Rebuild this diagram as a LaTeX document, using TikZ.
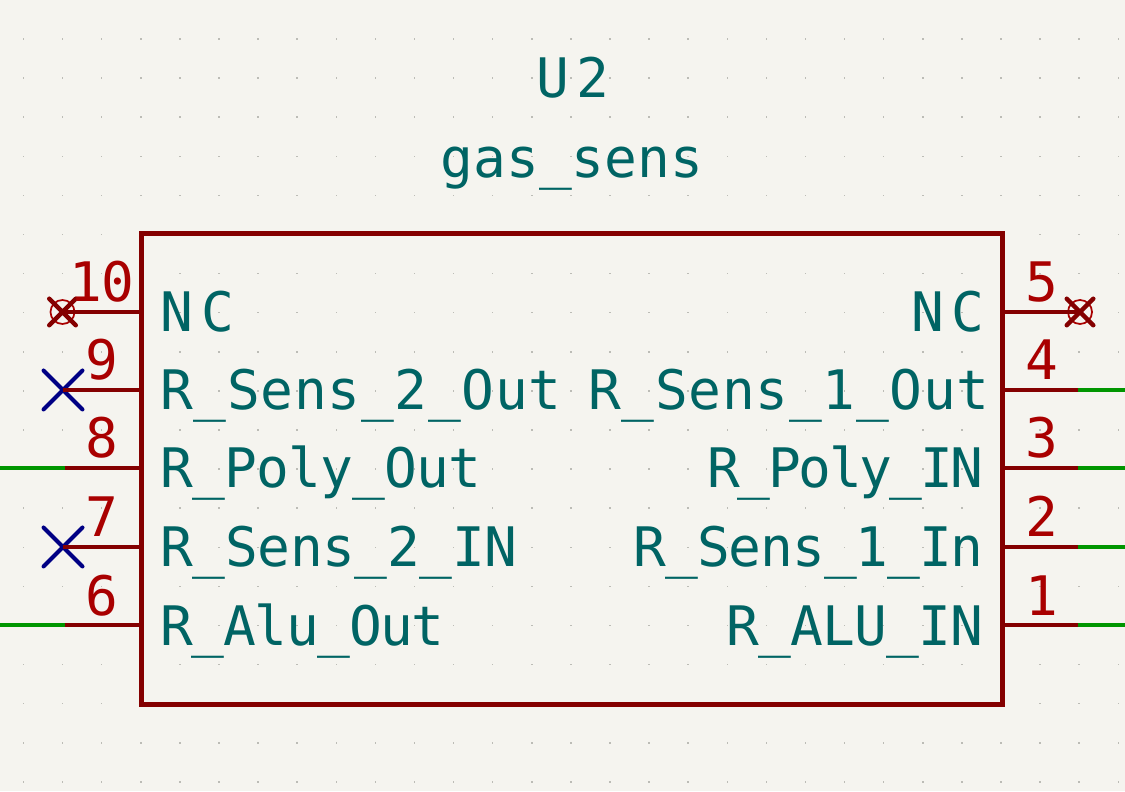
\documentclass[tikz,border=0pt]{standalone}
\usepackage{fontspec}
\usepackage{xcolor}
\setmainfont{DejaVu Sans Mono}
\usetikzlibrary{shapes.misc, positioning, calc}
\definecolor{Paper}{RGB}{245, 244, 239}
\definecolor{GridDot}{RGB}{188, 188, 182}
\definecolor{Body}{RGB}{132, 0, 0}
\definecolor{PinNum}{RGB}{169, 0, 0}
\definecolor{PinName}{RGB}{0, 100, 100}
\definecolor{Wire}{RGB}{0, 150, 0}
\definecolor{NoConn}{RGB}{0, 0, 132}
\tikzset{
    symbolbox/.style={draw=Body, line width=1mm, inner sep=0pt, outer sep=0pt, minimum width=17.22cm, minimum height=9.4cm},
    pinline/.style={draw=Body, line width=0.95mm},
    wireline/.style={draw=Wire, line width=0.95mm},
    nametext/.style={text=PinName, inner sep=0pt, font=\fontsize{31}{31}\selectfont\addfontfeature{LetterSpace=#1}},
    nametext/.default=0,
    numtext/.style={text=PinNum, inner sep=0pt, anchor=base, font=\fontsize{31}{31}\selectfont},
    pinend/.style={draw=Body, cross out, line width=0.9mm, line cap=round, inner sep=0pt, minimum size=0.44cm},
    pinring/.style={draw=PinNum, circle, line width=0.35mm, inner sep=0pt, minimum size=0.48cm},
    ncmark/.style={draw=NoConn, cross out, line width=0.8mm, line cap=round, inner sep=0pt, minimum size=0.7cm}
}

\begin{document}
\begin{tikzpicture}
    \useasboundingbox[fill=Paper] (0,0) rectangle (22.5,15.82);
    % grid dots
    \foreach \i in {0,...,28} {
        \foreach \j in {0,...,19} {
            \fill[GridDot] ({0.47+0.782*\i-0.015},{15.04-0.782*\j-0.015}) rectangle ++(0.03,0.03);
        }
    }

    % symbol
    \node[symbolbox] (body) at (11.43,6.44) {};
    \node[nametext=12, anchor=base] (ref) at (11.46,13.86) {U2};
    \node[nametext, anchor=base] (val) at (11.44,12.26) {gas\_sens};

    % pin ends at the body
    \coordinate (b10) at (2.82,9.58);
    \coordinate (b9) at (2.82,8.02);
    \coordinate (b8) at (2.82,6.46);
    \coordinate (b7) at (2.82,4.88);
    \coordinate (b6) at (2.82,3.32);
    \coordinate (b5) at (20.04,9.58);
    \coordinate (b4) at (20.04,8.02);
    \coordinate (b3) at (20.04,6.46);
    \coordinate (b2) at (20.04,4.88);
    \coordinate (b1) at (20.04,3.32);

    % outer pin ends
    \coordinate (e8) at (1.3,6.46);
    \coordinate (e6) at (1.3,3.32);
    \coordinate (e4) at (21.56,8.02);
    \coordinate (e3) at (21.56,6.46);
    \coordinate (e2) at (21.56,4.88);
    \coordinate (e1) at (21.56,3.32);

    % wire free ends
    \coordinate (w8) at (0,6.46);
    \coordinate (w6) at (0,3.32);
    \coordinate (w4) at (22.5,8.02);
    \coordinate (w3) at (22.5,6.46);
    \coordinate (w2) at (22.5,4.88);
    \coordinate (w1) at (22.5,3.32);

    % wires
    \draw[wireline] (e8) -- (w8);
    \draw[wireline] (e6) -- (w6);
    \draw[wireline] (e4) -- (w4);
    \draw[wireline] (e3) -- (w3);
    \draw[wireline] (e2) -- (w2);
    \draw[wireline] (e1) -- (w1);

    % unconnected ends
    \node[pinring] (r10) at (1.25,9.58) {};
    \node[pinend] (x10) at (1.25,9.58) {};
    \node[pinring] (r5) at (21.6,9.58) {};
    \node[pinend] (x5) at (21.6,9.58) {};
    \node[ncmark] (x9) at (1.26,8.02) {};
    \node[ncmark] (x7) at (1.26,4.88) {};

    % pins
    \draw[pinline] (b10) -- (x10.center);
    \draw[pinline] (b9) -- (x9.center);
    \draw[pinline] (b8) -- (e8);
    \draw[pinline] (b7) -- (x7.center);
    \draw[pinline] (b6) -- (e6);
    \draw[pinline] (b5) -- (x5.center);
    \draw[pinline] (b4) -- (e4);
    \draw[pinline] (b3) -- (e3);
    \draw[pinline] (b2) -- (e2);
    \draw[pinline] (b1) -- (e1);

    % pin numbers
    \node[numtext] (n10) at (2.04,9.78) {10};
    \node[numtext] (n9) at (2.04,8.22) {9};
    \node[numtext] (n8) at (2.04,6.66) {8};
    \node[numtext] (n7) at (2.04,5.08) {7};
    \node[numtext] (n6) at (2.04,3.52) {6};
    \node[numtext] (n5) at (20.84,9.78) {5};
    \node[numtext] (n4) at (20.84,8.22) {4};
    \node[numtext] (n3) at (20.84,6.66) {3};
    \node[numtext] (n2) at (20.84,5.08) {2};
    \node[numtext] (n1) at (20.84,3.52) {1};

    % pin names
    \node[nametext=16, anchor=base west] (l10) at (3.2,9.18) {NC};
    \node[nametext=1.3, anchor=base west] (l9) at (3.2,7.62) {R\_Sens\_2\_Out};
    \node[nametext=-1.4, anchor=base west] (l8) at (3.2,6.06) {R\_Poly\_Out};
    \node[nametext=-0.7, anchor=base west] (l7) at (3.2,4.48) {R\_Sens\_2\_IN};
    \node[nametext=-2.5, anchor=base west] (l6) at (3.2,2.92) {R\_Alu\_Out};
    \node[nametext=14, anchor=base east] (l5) at (19.7,9.18) {NC};
    \node[nametext=1.3, anchor=base east] (l4) at (19.8,7.62) {R\_Sens\_1\_Out};
    \node[nametext=-4.3, anchor=base east] (l3) at (19.68,6.06) {R\_Poly\_IN};
    \node[nametext=-2, anchor=base east] (l2) at (19.68,4.48) {R\_Sens\_1\_In};
    \node[nametext=-1.3, anchor=base east] (l1) at (19.68,2.92) {R\_ALU\_IN};
\end{tikzpicture}
\end{document}
